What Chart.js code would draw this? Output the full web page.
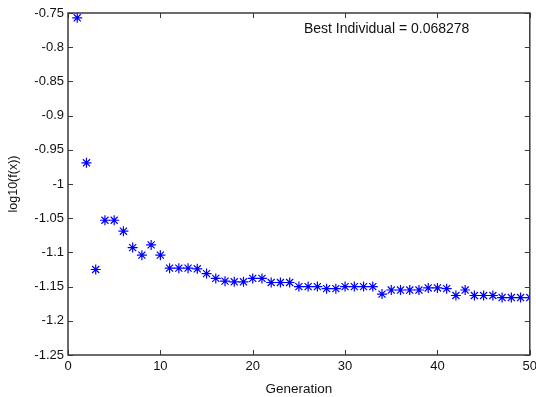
<!DOCTYPE html>
<html>
<head>
<meta charset="utf-8">
<script src="https://cdn.jsdelivr.net/npm/chart.js@4/dist/chart.umd.min.js"></script>
<style>
  html, body { margin: 0; padding: 0; background: #fff; }
  #wrap { width: 536px; height: 397px; }
</style>
</head>
<body>
<div id="wrap"><canvas id="gaChart" width="536" height="397"></canvas></div>
<script>
// generation numbers and best log10(f(x)) per generation
var generations = [];
for (var g = 1; g <= 50; g++) generations.push(g);

var bestLog = [
  -0.757, -0.969, -1.125, -1.053, -1.053, -1.069, -1.093, -1.104, -1.089, -1.104,
  -1.123, -1.123, -1.123, -1.124, -1.131, -1.138, -1.142, -1.143, -1.143, -1.138,
  -1.138, -1.144, -1.144, -1.144, -1.150, -1.150, -1.150, -1.153, -1.153, -1.150,
  -1.150, -1.150, -1.150, -1.161, -1.155, -1.155, -1.155, -1.155, -1.152, -1.152,
  -1.153, -1.163, -1.155, -1.163, -1.163, -1.163, -1.166, -1.166, -1.166, -1.166
];

var xTicks = [0, 10, 20, 30, 40, 50];
var yTicks = [-1.25, -1.2, -1.15, -1.1, -1.05, -1, -0.95, -0.9, -0.85, -0.8, -0.75];
var annotation = 'Best Individual = 0.068278';

var points = generations.map(function (g, i) {
  return { x: g, y: bestLog[i] };
});

var FONT = '"Liberation Sans", Arial, sans-serif';

// matlab style box + inward ticks + text label
var matlabAxes = {
  id: 'matlabAxes',
  afterDraw: function (chart) {
    var c = chart.ctx, a = chart.chartArea;
    var xs = chart.scales.x, ys = chart.scales.y;
    var len = 5;
    c.save();
    c.strokeStyle = '#3a3a3a';
    c.lineWidth = 1;
    c.beginPath();
    xTicks.forEach(function (t) {
      var px = Math.round(xs.getPixelForValue(t)) + 0.5;
      c.moveTo(px, a.bottom); c.lineTo(px, a.bottom - len);
      c.moveTo(px, a.top); c.lineTo(px, a.top + len);
    });
    yTicks.forEach(function (t) {
      var py = Math.round(ys.getPixelForValue(t)) + 0.5;
      c.moveTo(a.left, py); c.lineTo(a.left + len, py);
      c.moveTo(a.right, py); c.lineTo(a.right - len, py);
    });
    c.stroke();
    c.lineWidth = 1.5;
    c.strokeRect(a.left, a.top, a.right - a.left, a.bottom - a.top);
    c.fillStyle = '#111';
    c.font = '14px ' + FONT;
    c.textAlign = 'center';
    c.textBaseline = 'middle';
    c.fillText(annotation, xs.getPixelForValue(34.5), ys.getPixelForValue(-0.7738));
    c.restore();
  }
};

var ctx = document.getElementById('gaChart').getContext('2d');
var chart = new Chart(ctx, {
  type: 'scatter',
  data: {
    datasets: [{
      label: 'best',
      data: points,
      pointStyle: 'star',
      pointRadius: 5,
      pointHoverRadius: 5,
      borderColor: '#0000ff',
      backgroundColor: '#0000ff',
      borderWidth: 1.2,
      showLine: false
    }]
  },
  plugins: [matlabAxes],
  options: {
    responsive: false,
    animation: false,
    layout: { padding: { top: 13, right: 6, left: 0, bottom: 0 } },
    plugins: {
      legend: { display: false },
      tooltip: { enabled: false }
    },
    scales: {
      x: {
        type: 'linear',
        min: 0,
        max: 50,
        afterBuildTicks: function (s) { s.ticks = xTicks.map(function (v) { return { value: v }; }); },
        afterFit: function (s) { s.height = 42; s.paddingLeft = 0; s.paddingRight = 0; },
        grid: { display: false, drawTicks: false },
        border: { display: false },
        ticks: { color: '#111', font: { family: FONT, size: 13 }, padding: 4, maxRotation: 0 },
        title: { display: true, text: 'Generation', color: '#111', font: { family: FONT, size: 13.5 }, padding: { top: 0, bottom: 0 } }
      },
      y: {
        type: 'linear',
        min: -1.25,
        max: -0.75,
        afterBuildTicks: function (s) { s.ticks = yTicks.map(function (v) { return { value: v }; }); },
        afterFit: function (s) { s.width = 68; s.paddingTop = 0; s.paddingBottom = 0; },
        grid: { display: false, drawTicks: false },
        border: { display: false },
        ticks: {
          color: '#111',
          font: { family: FONT, size: 13 },
          padding: 4,
          callback: function (v) { return String(parseFloat(Number(v).toFixed(2))); }
        },
        title: { display: true, text: 'log10(f(x))', color: '#111', font: { family: FONT, size: 12.5 }, padding: { top: 6, bottom: 2 } }
      }
    }
  }
});
</script>
</body>
</html>
